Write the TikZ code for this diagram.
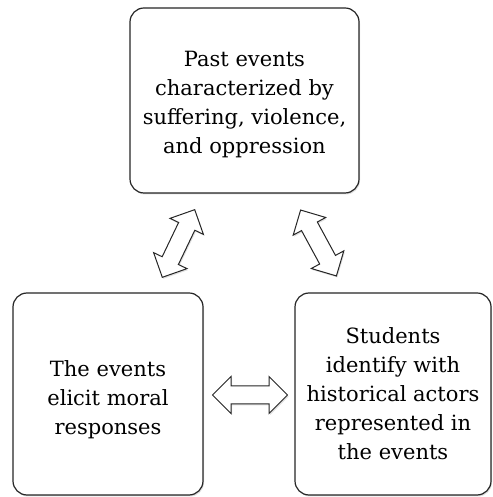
\documentclass[tikz,border=0pt]{standalone}
\usepackage{fontspec}
\setmainfont{DejaVu Serif}
\usetikzlibrary{shapes,shapes.arrows,shadows}

\begin{document}
\begin{tikzpicture}[x=1pt,y=1pt,
  box/.style={draw=black!85,rounded corners=14pt,line width=1.2pt,fill=white,
    drop shadow={opacity=0.25,shadow xshift=1pt,shadow yshift=-1.5pt},
    align=center,inner sep=0pt,font=\fontsize{21}{29}\selectfont},
  link/.style={double arrow,draw=black!85,line width=1pt,fill=white,
    minimum height=75pt,inner xsep=0pt,inner ysep=8.5pt,
    double arrow head extend=9.5pt,double arrow head indent=0pt,
    drop shadow={opacity=0.25,shadow xshift=1pt,shadow yshift=-1.5pt}}]
\useasboundingbox (0,0) rectangle (492,497);
\draw(244.5,396.5) node[box,minimum width=229pt,minimum height=185pt] (past) {};
\draw(244.5,392) node[align=center,inner sep=0pt,font=\fontsize{21}{29}\selectfont] (pasttext) {Past events\\characterized by\\suffering, violence,\\and oppression};
\draw(108,103) node[box,minimum width=190pt,minimum height=202pt] (moral) {};
\draw(108,97) node[align=center,inner sep=0pt,font=\fontsize{21}{29}\selectfont] (moraltext) {The events\\elicit moral\\responses};
\draw(393,103) node[box,minimum width=196pt,minimum height=202pt] (actors) {Students\\identify with\\historical actors\\represented in\\the events};
\draw(178.5,253.5) node[link,rotate=64.4] (a1) {};
\draw(318.5,254) node[link,rotate=118.5] (a2) {};
\draw(250,102) node[link] (a3) {};
\end{tikzpicture}
\end{document}
